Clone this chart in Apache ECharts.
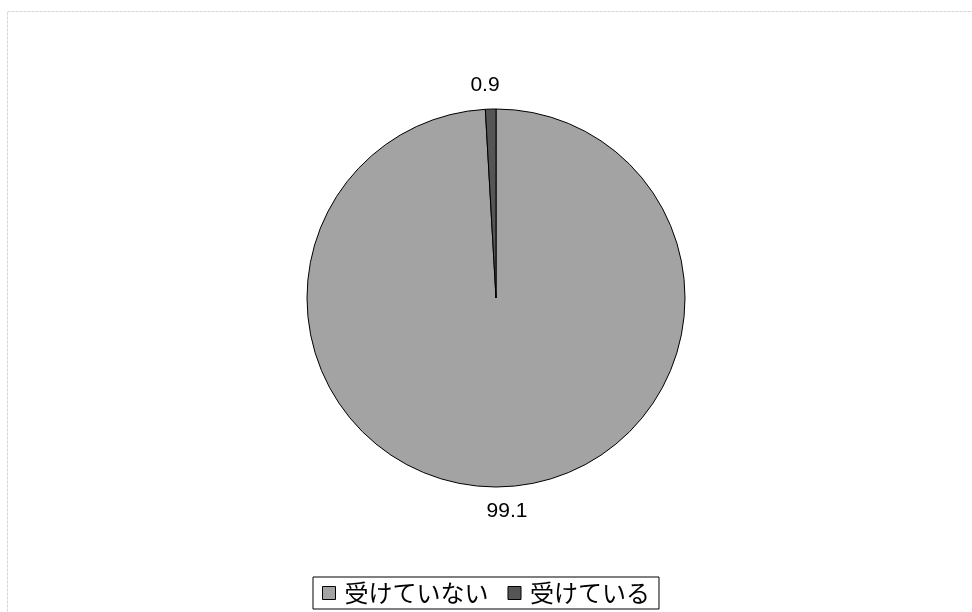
<!DOCTYPE html>
<html>
<head>
<meta charset="utf-8">
<script src="https://cdn.jsdelivr.net/npm/echarts@6/dist/echarts.min.js"></script>
<style>
  html, body { margin: 0; padding: 0; background: #fff; }
  #chart { width: 972px; height: 612px; }
</style>
</head>
<body>
<div id="chart"></div>
<script>
// Share of respondents (percent)
const categories = ['受けていない', '受けている'];
const values = [99.1, 0.9];
const sliceColors = ['#a3a3a3', '#555555'];

const chart = echarts.init(document.getElementById('chart'), null, { renderer: 'canvas' });

const pieData = categories.map((name, i) => ({
  name: name,
  value: values[i],
  itemStyle: { color: sliceColors[i] }
}));

chart.setOption({
  animation: false,
  backgroundColor: '#ffffff',
  graphic: [{
    type: 'rect',
    shape: { x: 7.5, y: 11.5, width: 1000, height: 700 },
    style: { fill: 'none', stroke: '#d4d4d4', lineWidth: 1, lineDash: [3, 1] },
    silent: true,
    z: -10
  }],
  legend: {
    data: categories,
    left: 'center',
    top: 577,
    orient: 'horizontal',
    itemWidth: 13,
    itemHeight: 13,
    itemGap: 19,
    padding: [3, 9, 3, 9],
    borderColor: '#000000',
    borderWidth: 1,
    icon: 'rect',
    itemStyle: { borderColor: '#000000', borderWidth: 1 },
    textStyle: {
      fontFamily: '"Noto Sans CJK JP", sans-serif',
      fontSize: 24,
      color: '#000000',
      padding: [0, 0, 0, 4],
      lineHeight: 26
    }
  },
  series: [{
    type: 'pie',
    center: [496, 298],
    radius: [0, 189],
    startAngle: 90,
    clockwise: true,
    avoidLabelOverlap: false,
    data: pieData,
    itemStyle: { borderColor: '#000000', borderWidth: 1 },
    label: {
      show: true,
      position: 'outside',
      formatter: p => p.value.toFixed(1),
      fontFamily: '"Liberation Sans", Arial, sans-serif',
      fontSize: 21,
      color: '#000000'
    },
    labelLine: { show: false, length: 24, length2: 0 },
    labelLayout: { align: 'center', verticalAlign: 'middle' },
    emphasis: { disabled: true }
  }]
});
</script>
</body>
</html>
